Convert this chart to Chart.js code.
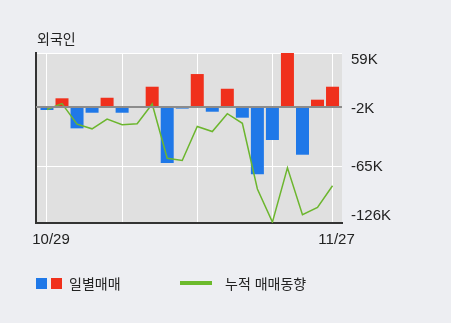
<!DOCTYPE html>
<html lang="ko">
<head>
<meta charset="UTF-8">
<title>외국인 매매동향</title>
<script src="https://cdn.jsdelivr.net/npm/chart.js"></script>
<style>
  body { margin: 0; background: #edeef2; font-family: "Noto Sans CJK KR", sans-serif; color: #222; }
  .wrap { position: relative; width: 451px; height: 323px; overflow: hidden; }
  #flowChart { position: absolute; left: 0; top: 0; }
  .title { position: absolute; left: 37px; top: 30px; font-size: 14px; line-height: 16px; }
  .legend-text { position: absolute; top: 275px; font-size: 14px; line-height: 16px; white-space: nowrap; }
  .swatch { position: absolute; top: 278px; width: 11px; height: 11px; }
  .legend-line { position: absolute; left: 180px; top: 281px; width: 32px; height: 4px; background: #6cba2c; }
</style>
</head>
<body>
<div class="wrap">
  <canvas id="flowChart" width="451" height="323"></canvas>
  <div class="title">외국인</div>
  <div class="swatch" style="left:36px;background:#1f78e8"></div>
  <div class="swatch" style="left:51px;background:#f0301c"></div>
  <div class="legend-text" style="left:69px">일별매매</div>
  <div class="legend-line"></div>
  <div class="legend-text" style="left:225px">누적 매매동향</div>
</div>

<script>
// trading days, daily net buying (thousand shares) and running total
const dates = ['10/29', '10/30', '10/31', '11/01', '11/04', '11/05', '11/06', '11/07', '11/08', '11/13',
               '11/14', '11/15', '11/18', '11/19', '11/20', '11/21', '11/22', '11/25', '11/26', '11/27'];
const dailyNet = [-3, 9.7, -23, -6, 10.3, -6, 1.3, 22.3, -60.7, -1.5,
                  36.1, -4.9, 20.1, -11.4, -73, -35.7, 59, -51.7, 8.2, 22.3];
const cumulative = [-2.5, 4, -18.5, -23.5, -13, -19, -18, 3.5, -55.5, -58,
                    -21, -26.5, -7, -17.5, -89, -125, -66, -117, -109, -85.5];

const yTickValues = [59, -2, -65, -126];
const yTickLabels = ['59K', '-2K', '-65K', '-126K'];
const xGridDays = [0, 5, 10, 15, 19];

const yMin = -126, yMax = 59;
const tickFont = { family: 'Liberation Sans, Arial, sans-serif', size: 15, lineHeight: '14px' };

const plotBackground = {
  id: 'plotBackground',
  beforeDraw(chart) {
    const { ctx, chartArea: a } = chart;
    ctx.save();
    ctx.fillStyle = '#e0e0e0';
    ctx.fillRect(a.left, a.top, a.right - a.left, a.bottom - a.top);
    ctx.restore();
  }
};

new Chart(document.getElementById('flowChart'), {
  data: {
    datasets: [
      {
        type: 'line',
        data: cumulative.map((v, i) => ({ x: i, y: v })),
        borderColor: '#6cb62e',
        borderWidth: 1.5,
        pointRadius: 0,
        tension: 0,
        order: 0
      },
      {
        type: 'bar',
        data: dailyNet.map((v, i) => ({ x: i, y: v })),
        backgroundColor: dailyNet.map(v => v >= 0 ? '#f0301c' : '#1f78e8'),
        borderWidth: 0,
        barPercentage: 0.865,
        categoryPercentage: 1,
        order: 1
      }
    ]
  },
  plugins: [plotBackground],
  options: {
    responsive: false,
    animation: false,
    layout: { padding: { top: 53 } },
    plugins: { legend: { display: false }, tooltip: { enabled: false } },
    scales: {
      x: {
        type: 'linear',
        offset: false,
        min: -0.73,
        max: dates.length - 1 + 0.63,
        afterBuildTicks: s => { s.ticks = xGridDays.map(v => ({ value: v })); },
        afterFit: s => { s.height = 100; },
        grid: { color: '#ffffff', lineWidth: 1, drawTicks: false, offset: false },
        border: { color: '#333333', width: 2 },
        ticks: {
          autoSkip: false,
          maxRotation: 0,
          padding: 10,
          labelOffset: 4,
          color: '#222',
          font: tickFont,
          callback: v => (v === 0 || v === dates.length - 1) ? dates[v] : ''
        }
      },
      y: {
        position: 'right',
        min: yMin,
        max: yMax,
        afterBuildTicks: s => { s.ticks = yTickValues.map(v => ({ value: v })); },
        afterFit: s => { s.width = 109; },
        grid: {
          drawTicks: false,
          color: ctx => (ctx.tick && (ctx.tick.value === yMax || ctx.tick.value === -65)) ? '#ffffff' : 'rgba(0,0,0,0)'
        },
        border: { display: false },
        ticks: {
          padding: 9,
          color: '#222',
          font: tickFont,
          callback: v => {
            const label = yTickLabels[yTickValues.indexOf(v)];
            // keep the edge labels inside the plot height
            if (v === yMax) return ['', label];
            if (v === yMin) return [label, ''];
            return label;
          }
        }
      },
      yZero: {
        position: 'right',
        min: yMin,
        max: yMax,
        afterBuildTicks: s => { s.ticks = [{ value: 0 }]; },
        afterFit: s => { s.width = 0; },
        ticks: { display: false },
        grid: { color: '#8c8c8c', lineWidth: 2, drawTicks: false, z: 1 },
        border: { display: false }
      },
      yLeft: {
        position: 'left',
        min: yMin,
        max: yMax,
        afterFit: s => { s.width = 36; },
        ticks: { display: false },
        grid: { display: false },
        border: { color: '#333333', width: 2 }
      }
    }
  }
});
</script>
</body>
</html>
